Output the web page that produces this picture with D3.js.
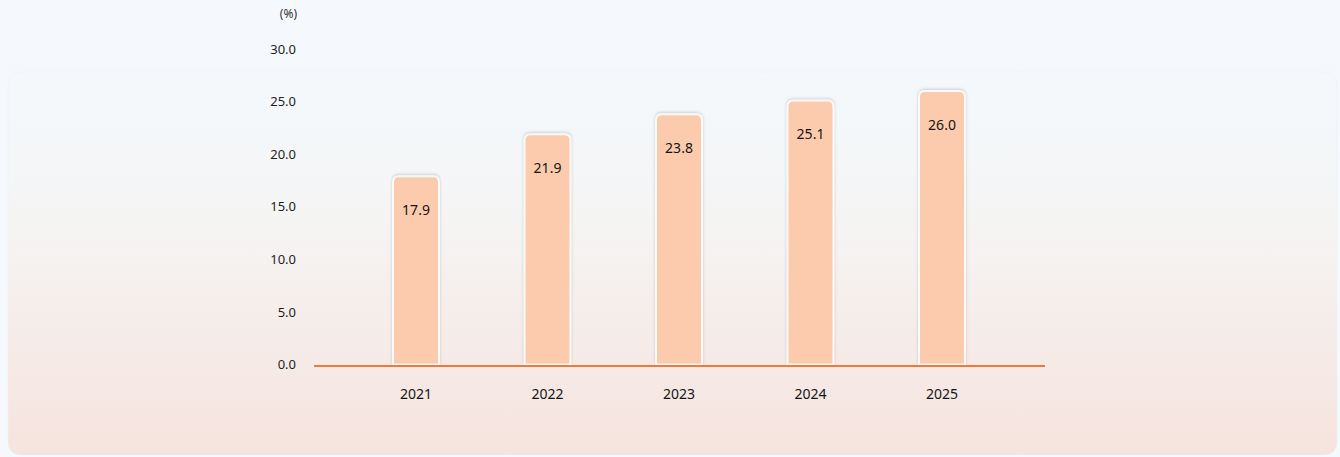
<!DOCTYPE html>
<html>
<head>
<meta charset="utf-8">
<script src="https://cdn.jsdelivr.net/npm/d3@7"></script>
<style>
    html, body { margin: 0; padding: 0; background: #f5f9fd; }
    #chart { width: 1340px; height: 457px; }
    text { font-family: "Noto Sans", sans-serif; }
</style>
</head>
<body>
<div id="chart"></div>
<script>
// Chart data
const years = ["2021", "2022", "2023", "2024", "2025"];
const values = [17.9, 21.9, 23.8, 25.1, 26.0];
const yTicks = [0, 5, 10, 15, 20, 25, 30];
const unitLabel = "(%)";

const width = 1340, height = 457;

const svg = d3.select("#chart").append("svg")
    .attr("width", width)
    .attr("height", height);

const defs = svg.append("defs");

// background card gradient (blue-ish top to pink bottom)
let grad = defs.append("linearGradient")
    .attr("id", "cardGrad")
    .attr("gradientUnits", "userSpaceOnUse")
    .attr("x1", 0).attr("y1", 0).attr("x2", 0).attr("y2", 457);
grad.append("stop").attr("offset", "0%").attr("stop-color", "#f5f9fd");
grad.append("stop").attr("offset", "25%").attr("stop-color", "#f4f8fb");
grad.append("stop").attr("offset", "50%").attr("stop-color", "#f5f4f3");
grad.append("stop").attr("offset", "100%").attr("stop-color", "#f6e3dd");

// soft shadow for the bars
let shadow = defs.append("filter")
    .attr("id", "barShadow")
    .attr("x", "-30%").attr("y", "-30%")
    .attr("width", "160%").attr("height", "160%");
shadow.append("feDropShadow")
    .attr("dx", 0).attr("dy", -1)
    .attr("stdDeviation", 1.5)
    .attr("flood-color", "#8a8f96")
    .attr("flood-opacity", 0.4);

// card
svg.append("rect")
    .attr("x", 8).attr("y", -30)
    .attr("width", 1329).attr("height", 485)
    .attr("rx", 12)
    .attr("fill", "url(#cardGrad)");

// faint inner panel edge
svg.append("rect")
    .attr("x", 8).attr("y", 72)
    .attr("width", 1329).attr("height", 383)
    .attr("rx", 12)
    .attr("fill", "none")
    .attr("stroke", "#eef1f4")
    .attr("stroke-opacity", 0.6);

// scales
const y = d3.scaleLinear()
    .domain([0, 30])
    .range([364.5, 49]);

const x = d3.scaleBand()
    .domain(years)
    .range([350.25, 1007.75])
    .paddingInner(0.65)
    .paddingOuter(0.325);

const barW = 46;

// y tick labels
const yAxis = d3.axisLeft(y)
    .tickValues(yTicks)
    .tickFormat(d3.format(".1f"))
    .tickSize(0)
    .tickPadding(0);

let yG = svg.append("g")
    .attr("transform", "translate(296,0)")
    .call(yAxis);
yG.select(".domain").remove();
yG.selectAll("text")
    .attr("fill", "#1e1e1e")
    .style("font-size", "13px")
    .style("font-family", "'Noto Sans', sans-serif");

svg.append("text")
    .attr("x", 297)
    .attr("y", 15)
    .attr("text-anchor", "end")
    .attr("dominant-baseline", "middle")
    .attr("fill", "#333")
    .style("font-size", "12px")
    .text(unitLabel);

// bars
svg.append("g").selectAll("path")
    .data(values)
    .join("path")
    .attr("d", (d, i) => {
        let cx = x(years[i]) + x.bandwidth() / 2;
        let x0 = cx - barW / 2, x1 = cx + barW / 2;
        let top = y(d), bottom = y(0), r = 6;
        return `M${x0},${bottom} L${x0},${top + r} Q${x0},${top} ${x0 + r},${top}
                L${x1 - r},${top} Q${x1},${top} ${x1},${top + r} L${x1},${bottom} Z`;
    })
    .attr("fill", "#fccbad")
    .attr("stroke", "#fafafa")
    .attr("stroke-width", 2)
    .attr("filter", "url(#barShadow)");

// value labels
svg.append("g").selectAll("text")
    .data(values)
    .join("text")
    .attr("x", (d, i) => x(years[i]) + x.bandwidth() / 2)
    .attr("y", d => y(d) + 35)
    .attr("text-anchor", "middle")
    .attr("dominant-baseline", "middle")
    .attr("fill", "#141414")
    .style("font-size", "14px")
    .text(d => d3.format(".1f")(d));

// baseline
svg.append("line")
    .attr("x1", 314).attr("x2", 1045)
    .attr("y1", y(0) + 1.5).attr("y2", y(0) + 1.5)
    .attr("stroke", "#f07a3c")
    .attr("stroke-width", 2);

// x labels
const xAxis = d3.axisBottom(x).tickSize(0).tickPadding(0);
let xG = svg.append("g")
    .attr("transform", "translate(0,394)")
    .call(xAxis);
xG.select(".domain").remove();
xG.selectAll("text")
    .attr("dy", "0.35em")
    .attr("fill", "#141414")
    .style("font-size", "14px")
    .style("font-family", "'Noto Sans', sans-serif");
</script>
</body>
</html>
